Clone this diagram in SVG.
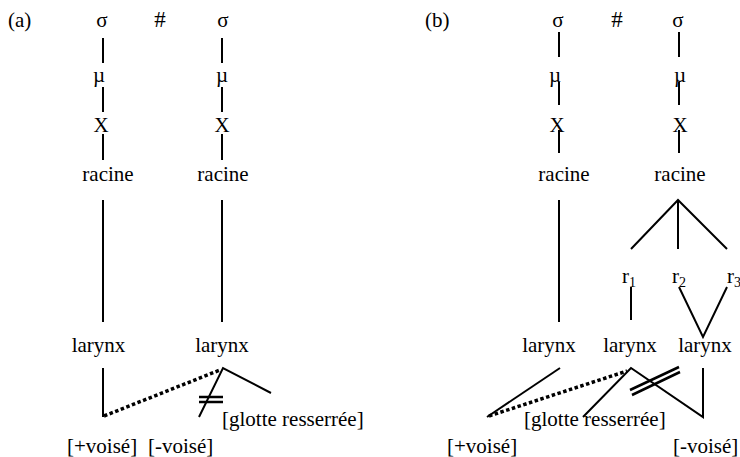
<svg xmlns="http://www.w3.org/2000/svg" width="740" height="457" viewBox="0 0 740 457">
<style>
text{font-family:"Liberation Serif","Times New Roman",serif;font-size:21px;fill:#000}
.m{text-anchor:middle}
.sub{font-size:14px}
.h{font-size:23px}
.ln{stroke:#000;stroke-width:2;fill:none}
.dot{stroke:#000;stroke-width:3.5;stroke-dasharray:3.5 2.5;fill:none}
.bar{stroke:#000;stroke-width:2.5;fill:none}
</style>
<rect width="740" height="457" fill="#fff"/>
<g id="connectors">
<!-- panel a -->
<path class="ln" d="M103 38V63M103 87V112M103 134V160M103 200V322M103 368V417"/>
<path class="ln" d="M222 38V63M222 87V112M222 134V160M222 200V322"/>
<path class="dot" d="M104 416L220 370"/>
<path class="ln" d="M271 393L223 368L199 417"/>
<path class="bar" d="M199 397H223M199 402H223"/>
<!-- panel b -->
<path class="ln" d="M559 32V57M559 82V105M559 130V153M559 200V322"/>
<path class="ln" d="M679 32V57M679 82V105M679 130V153"/>
<path class="ln" d="M631 249L678 200L727 249M678 200V249"/>
<path class="ln" d="M631 287V320M679 287L703 337L727 287"/>
<path class="ln" d="M560 368L487 417"/>
<path class="dot" d="M489 416L627 371"/>
<path class="ln" d="M583 417L631 368L703 417V368"/>
<path class="bar" d="M630 390L679 367M632 395L680 372"/>
</g>
<g id="label-a"><text x="8" y="27">(a)</text></g>
<g id="a-sigma1"><text class="m" x="102" y="27">σ</text></g>
<g id="a-hash"><text class="m h" x="160" y="27">#</text></g>
<g id="a-sigma2"><text class="m" x="223" y="27">σ</text></g>
<g id="a-mu1"><text class="m" x="99" y="82">µ</text></g>
<g id="a-mu2"><text class="m" x="222" y="82">µ</text></g>
<g id="a-X1"><text class="m" x="101" y="132">X</text></g>
<g id="a-X2"><text class="m" x="222" y="132">X</text></g>
<g id="a-racine1"><text class="m" x="108" y="181">racine</text></g>
<g id="a-racine2"><text class="m" x="223" y="181">racine</text></g>
<g id="a-larynx1"><text class="m" x="98.5" y="352">larynx</text></g>
<g id="a-larynx2"><text class="m" x="222" y="352">larynx</text></g>
<g id="a-plusvoise"><text x="67" y="453">[+voisé]</text></g>
<g id="a-minusvoise"><text x="148" y="453">[-voisé]</text></g>
<g id="a-glotte"><text x="222" y="426">[glotte resserrée]</text></g>

<g id="label-b"><text x="425" y="27">(b)</text></g>
<g id="b-sigma1"><text class="m" x="558" y="27">σ</text></g>
<g id="b-hash"><text class="m h" x="617" y="27">#</text></g>
<g id="b-sigma2"><text class="m" x="678" y="27">σ</text></g>
<g id="b-mu1"><text class="m" x="555" y="82">µ</text></g>
<g id="b-mu2"><text class="m" x="680" y="82">µ</text></g>
<g id="b-X1"><text class="m" x="557" y="132">X</text></g>
<g id="b-X2"><text class="m" x="680" y="132">X</text></g>
<g id="b-racine1"><text class="m" x="564" y="181">racine</text></g>
<g id="b-racine2"><text class="m" x="680" y="181">racine</text></g>
<g id="b-r1"><text x="622" y="283">r<tspan class="sub" dy="4">1</tspan></text></g>
<g id="b-r2"><text x="672" y="283">r<tspan class="sub" dy="4">2</tspan></text></g>
<g id="b-r3"><text x="727" y="283">r<tspan class="sub" dy="4">3</tspan></text></g>
<g id="b-larynx1"><text class="m" x="549" y="352">larynx</text></g>
<g id="b-larynx2"><text class="m" x="630" y="352">larynx</text></g>
<g id="b-larynx3"><text class="m" x="705" y="352">larynx</text></g>
<g id="b-plusvoise"><text x="447" y="453">[+voisé]</text></g>
<g id="b-glotte"><text x="524" y="426">[glotte resserrée]</text></g>
<g id="b-minusvoise"><text x="673" y="453">[-voisé]</text></g>
</svg>
